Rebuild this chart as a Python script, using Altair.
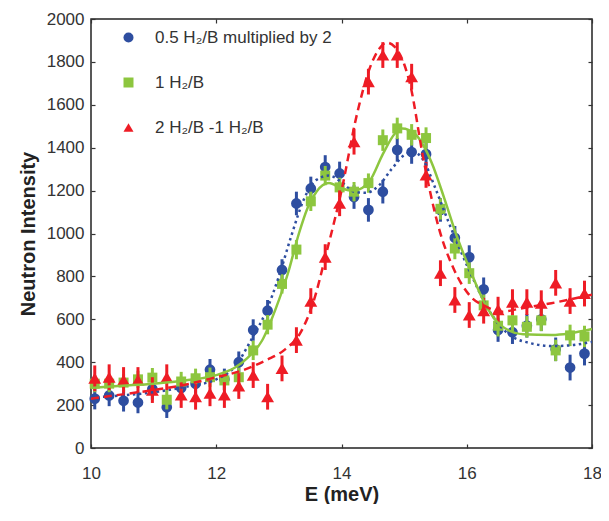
import altair as alt
import pandas as pd

# ---------------- data ----------------
E = [10.06, 10.29, 10.52, 10.75, 10.98, 11.21, 11.44, 11.67, 11.90, 12.13,
     12.36, 12.59, 12.82, 13.05, 13.28, 13.51, 13.74, 13.97, 14.20, 14.43,
     14.66, 14.89, 15.12, 15.35, 15.58, 15.81, 16.04, 16.27, 16.50, 16.73,
     16.96, 17.19, 17.42, 17.65, 17.88]

blue_vals = [230, 245, 220, 212, 275, 190, 280, 300, 365, 320,
             400, 550, 640, 830, 1140, 1210, 1310, 1280, 1170, 1110,
             1195, 1390, 1380, 1370, 1110, 980, 890, 740, 550, 540,
             570, 600, 460, 375, 440]
blue_err = [50, 50, 50, 50, 50, 50, 50, 50, 50, 50,
            50, 50, 50, 50, 55, 55, 55, 55, 55, 55,
            55, 55, 55, 55, 55, 55, 55, 55, 55, 55,
            55, 55, 55, 60, 55]

green_vals = [300, 300, 305, 320, 328, 225, 310, 325, 330, 315,
              330, 455, 575, 765, 925, 1150, 1270, 1215, 1195, 1235,
              1435, 1490, 1460, 1445, 1115, 930, 815, 665, 570, 595,
              565, 595, 455, 525, 520]
green_err = [40, 40, 40, 40, 45, 45, 45, 45, 45, 45,
             45, 45, 45, 45, 45, 45, 45, 45, 45, 45,
             50, 50, 50, 50, 50, 50, 50, 50, 50, 50,
             50, 50, 50, 50, 50]

red_vals = [325, 330, 317, 317, 270, 330, 247, 239, 255, 247,
            289, 340, 239, 371, 503, 685, 890, 1141, 1428, 1708,
            1832, 1832, 1731, 1273, 815, 690, 620, 640, 645, 680,
            680, 675, 770, 685, 720]
red_err = [60, 60, 60, 60, 60, 60, 60, 60, 60, 60,
           60, 60, 60, 60, 60, 60, 60, 60, 60, 60,
           60, 60, 60, 60, 60, 60, 60, 60, 60, 60,
           60, 60, 60, 60, 60]

# fitted curves
fit_blue_E = [10.0, 10.5, 11.0, 11.5, 12.0, 12.3, 12.55, 12.8, 13.0, 13.2,
              13.4, 13.6, 13.8, 14.0, 14.2, 14.4, 14.6, 14.8, 15.0, 15.15,
              15.3, 15.5, 15.7, 15.9, 16.1, 16.3, 16.5, 16.75, 17.0, 17.35,
              17.7, 18.0]
fit_blue_I = [235, 245, 260, 285, 320, 380, 500, 640, 800, 990,
              1160, 1250, 1270, 1240, 1195, 1190, 1225, 1300, 1365, 1380,
              1345, 1210, 1060, 920, 790, 670, 580, 515, 490, 475,
              480, 495]

fit_green_E = [10.0, 10.5, 11.0, 11.5, 12.0, 12.3, 12.5, 12.73, 12.95, 13.14,
               13.32, 13.46, 13.6, 13.8, 14.0, 14.2, 14.45, 14.66, 14.85, 14.97,
               15.17, 15.44, 15.64, 15.85, 16.06, 16.27, 16.53, 16.9, 17.36, 18.0]
fit_green_I = [280, 290, 300, 315, 340, 375, 420, 500, 650, 810,
               1000, 1120, 1195, 1235, 1210, 1200, 1245, 1370, 1465, 1490,
               1465, 1330, 1165, 980, 825, 685, 575, 530, 527, 555]

fit_red_E = [10.0, 10.5, 11.0, 11.5, 12.0, 12.4, 12.8, 13.1, 13.35, 13.55,
             13.75, 14.0, 14.25, 14.45, 14.6, 14.72, 14.85, 15.0, 15.1, 15.3,
             15.55, 15.8, 16.05, 16.3, 16.55, 16.85, 17.35, 18.0]
fit_red_I = [230, 250, 270, 295, 330, 360, 410, 460, 540, 680,
             900, 1200, 1560, 1770, 1860, 1890, 1870, 1790, 1690, 1360,
             1030, 830, 710, 660, 635, 650, 675, 715]

SERIES = ["0.5 H\u2082/B multiplied by 2", "1 H\u2082/B", "2 H\u2082/B -1 H\u2082/B"]
COLORS = ["#2e4ea0", "#8dc63f", "#ee1c25"]
SHAPES = ["circle", "square", "triangle-up"]
X_TICKS = [10, 12, 14, 16, 18]
Y_TICKS = [0, 200, 400, 600, 800, 1000, 1200, 1400, 1600, 1800, 2000]

FONT = "Liberation Sans"


def points_df(vals, errs, name):
    return pd.DataFrame({
        "E": E,
        "I": vals,
        "lo": [v - e for v, e in zip(vals, errs)],
        "hi": [v + e for v, e in zip(vals, errs)],
        "series": name,
    })


def fit_df(xs, ys):
    return pd.DataFrame({"E": xs, "I": ys})


xs = alt.Scale(domain=[10, 18], nice=False)
ys = alt.Scale(domain=[0, 2000], nice=False)

legend = alt.Legend(
    title=None, orient="none", legendX=29, legendY=10,
    labelFont=FONT, labelFontSize=17, labelColor="#333", labelLimit=0,
    symbolSize=100, rowPadding=27, labelOffset=18,
    symbolStrokeWidth=0, symbolOpacity=1, padding=0,
)
color = alt.Color("series:N", scale=alt.Scale(domain=SERIES, range=COLORS), legend=legend)
shape = alt.Shape("series:N", scale=alt.Scale(domain=SERIES, range=SHAPES), legend=legend)

axis_bottom = alt.Axis(
    orient="bottom", values=X_TICKS, format="d", title="E (meV)",
    offset=-4, tickSize=4, domain=False, grid=False,
    labelPadding=17, titlePadding=3, labelOverlap=False, labelFlush=False,
)
axis_left = alt.Axis(
    orient="left", values=Y_TICKS, format="d", title="Neutron Intensity",
    offset=-4, tickSize=4, domain=False, grid=False,
    labelPadding=7, titlePadding=8, labelOverlap=False,
)
axis_top = alt.Axis(
    orient="top", values=X_TICKS, labels=False, title="",
    offset=-4, tickSize=4, domain=False, grid=False,
)
axis_right = alt.Axis(
    orient="right", values=Y_TICKS, labels=False, title="",
    offset=-4, tickSize=4, domain=False, grid=False,
)

layers = []

dfs = [points_df(blue_vals, blue_err, SERIES[0]),
       points_df(green_vals, green_err, SERIES[1]),
       points_df(red_vals, red_err, SERIES[2])]
sizes = [115, 100, 165]

for i, df in enumerate(dfs):
    if i == 0:
        xe = alt.X("E:Q", scale=xs, axis=axis_bottom)
        ye = alt.Y("lo:Q", scale=ys, axis=axis_left)
    else:
        xe = alt.X("E:Q", scale=xs, axis=None)
        ye = alt.Y("lo:Q", scale=ys, axis=None)
    err = alt.Chart(df).mark_rule(strokeWidth=3, color=COLORS[i]).encode(
        x=xe, y=ye, y2="hi:Q")
    pts = alt.Chart(df).mark_point(filled=True, opacity=1, size=sizes[i]).encode(
        x=alt.X("E:Q", scale=xs, axis=None),
        y=alt.Y("I:Q", scale=ys, axis=None),
        color=color, shape=shape)
    layers += [err, pts]

line_specs = [
    (fit_blue_E, fit_blue_I, COLORS[0], [2.5, 3.5]),
    (fit_green_E, fit_green_I, COLORS[1], None),
    (fit_red_E, fit_red_I, COLORS[2], [8, 5]),
]
for j, (fx, fy, c, dash) in enumerate(line_specs):
    kw = dict(strokeWidth=2.5, color=c, interpolate="monotone", clip=True)
    if dash:
        kw["strokeDash"] = dash
    if j == 0:
        xe = alt.X("E:Q", scale=xs, axis=axis_top)
        ye = alt.Y("I:Q", scale=ys, axis=axis_right)
    else:
        xe = alt.X("E:Q", scale=xs, axis=None)
        ye = alt.Y("I:Q", scale=ys, axis=None)
    layers.append(alt.Chart(fit_df(fx, fy)).mark_line(**kw).encode(x=xe, y=ye))

chart = alt.layer(*layers).resolve_axis(
    x="independent", y="independent"
).properties(
    width=501, height=429,
    autosize=alt.AutoSizeParams(type="none"),
    padding={"left": 83, "top": 11, "right": 9, "bottom": 56},
).configure_view(
    stroke="#222", strokeWidth=1.5
).configure_axis(
    labelFont=FONT, labelFontSize=17, labelColor="#333",
    titleFont=FONT, titleFontSize=20, titleFontWeight="bold", titleColor="#222",
    tickColor="#333", tickWidth=1.2,
)

chart.save("out.html", embed_options={"renderer": "svg", "actions": False})
